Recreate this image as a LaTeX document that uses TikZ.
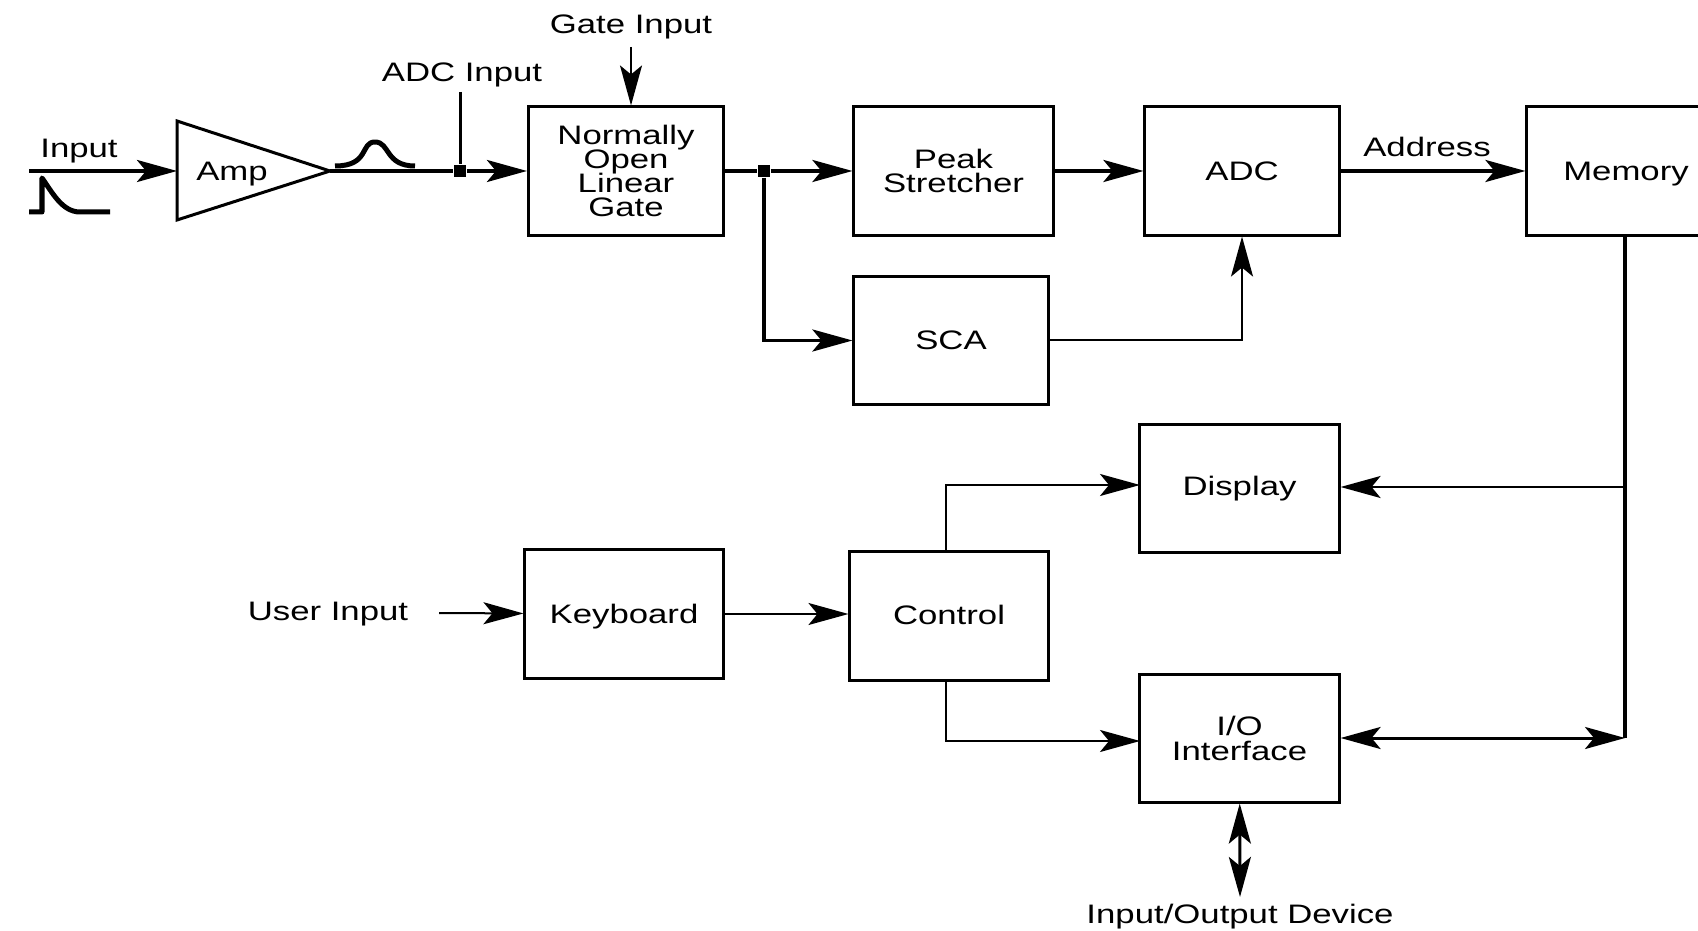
\documentclass[tikz,border=0pt]{standalone}
\usepackage{fontspec}
\setmainfont[FakeStretch=1.3]{Liberation Sans}
\usetikzlibrary{arrows.meta}
\newcommand{\nodepth}[1]{\raisebox{0pt}[\height][0pt]{#1}}
\tikzset{
  headtip/.tip={Stealth[length=0.4cm,width=0.22cm,inset=0.09cm]},
  blockbox/.style={draw, line width=0.03cm, inner sep=0pt, align=center},
  sig/.style={line width=0.035cm, -headtip},
  thinsig/.style={line width=0.02cm, -headtip},
  bisig/.style={line width=0.03cm, headtip-headtip},
  dotnode/.style={rectangle, fill, inner sep=0pt, minimum size=0.12cm},
  pulse/.style={line width=0.05cm, line join=round}
}
\begin{document}
\begin{tikzpicture}[x=0.01cm, y=-0.01cm, font=\fontsize{7.6}{6.9}\selectfont]
  \clip (0,0) rectangle (1698,931);
  \lineskiplimit=-10pt
  % blocks
  \foreach \bname/\bx/\by/\bw/\bh/\blab in {
    gate/626/171/1.95/1.28/{Normally\\Open\\Linear\\Gate},
    peak/953.5/171/1.99/1.28/{Peak\\Stretcher},
    adc/1242/171/1.94/1.28/ADC,
    memory/1626/171/1.98/1.28/{\nodepth{Memory}},
    sca/951/340.5/1.94/1.27/SCA,
    display/1239.5/488.5/1.99/1.27/Display,
    keyboard/624/614/1.98/1.28/{\nodepth{Keyboard}},
    control/949/616/1.98/1.28/{\raisebox{0.9pt}{Control}},
    ioface/1239.5/738.5/1.99/1.27/{I/O\\Interface}%
  }{
    \node[blockbox, minimum width=\bw cm, minimum height=\bh cm] (\bname) at (\bx,\by) {\blab};
  }
  \draw[line width=0.03cm, line join=miter] (177,121) -- (330,171) coordinate (ampout) -- (177,220) -- cycle;
  \node (amplab) at (232,171) {\nodepth{Amp}};
  % labels
  \node (inputlab) at (79,151) {Input};
  \node (gateinlab) at (631,27) {Gate Input};
  \node (adcinlab) at (462,75) {ADC Input};
  \node (addrlab) at (1427,147) {Address};
  \node (userlab) at (328,614) {User Input};
  \node (iodevlab) at (1240,917) {Input/Output Device};
  % free ends and branch points
  \coordinate (inputend) at (29,171);
  \coordinate (ampin) at (177,171);
  \coordinate (gatein) at (631,47);
  \coordinate (adcin) at (460,92);
  \coordinate (userin) at (439,613);
  \coordinate (membot) at (1625,738);
  \coordinate (memdisp) at (1625,487);
  \coordinate (iodev) at (1240,897);
  \coordinate (ctrltap) at (946,616);
  \coordinate (disptap) at (1140,485);
  \coordinate (iotap) at (1140,741);
  \node[dotnode] (ampjoin) at (460,171) {};
  \node[dotnode] (gatejoin) at (764,171) {};
  % signal path
  \foreach \a/\b in {inputend/ampin, ampjoin/gate, gatejoin/peak, peak/adc, adc/memory}
    {\draw[sig] (\a) -- (\b);}
  \draw[line width=0.035cm] (ampout) -- (ampjoin);
  \draw[line width=0.03cm] (adcin) -- (ampjoin);
  \draw[line width=0.035cm] (gate) -- (gatejoin);
  \draw[thinsig] (gatein) -- (gatein |- gate.north);
  \draw[sig] (gatejoin) |- (sca);
  \draw[thinsig] (sca) -| (adc);
  \draw[thinsig] (userin) -- (keyboard);
  \draw[thinsig] (keyboard) -- (control.west |- keyboard);
  \draw[thinsig] (ctrltap |- control.north) |- (disptap);
  \draw[thinsig] (ctrltap |- control.south) |- (iotap);
  \draw[line width=0.04cm] (memory.south -| membot) -- (membot);
  \draw[thinsig] (memdisp) -- (display.east |- memdisp);
  \draw[bisig] (ioface.east |- membot) -- (membot);
  \draw[bisig] (ioface) -- (iodev);
  % pulse sketches
  \draw[pulse] (29,212) -- (42,212) -- (42,178) .. controls (52,192) and (62,212) .. (80,212) -- (110,212);
  \draw[pulse] (335,166) .. controls (370,166) and (360,142) .. (375,142) .. controls (390,142) and (385,166) .. (415,166);
\end{tikzpicture}
\end{document}
